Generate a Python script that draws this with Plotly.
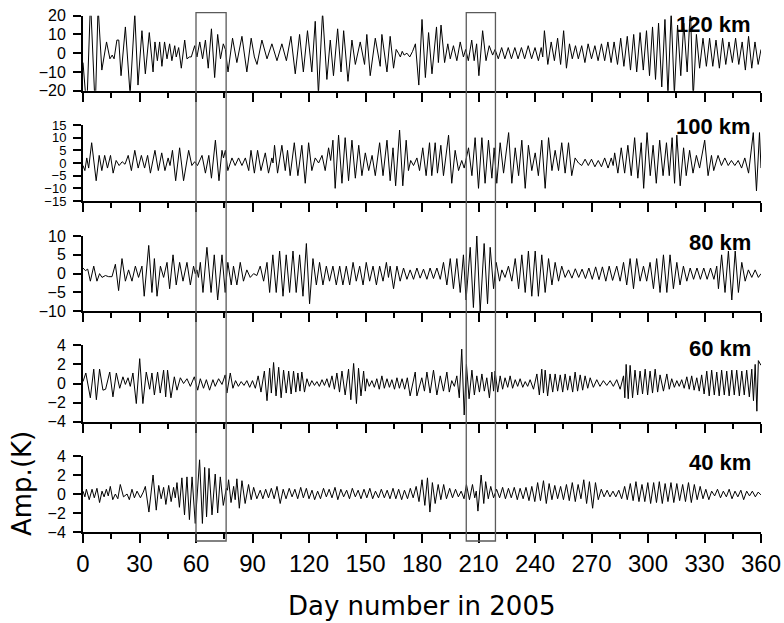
import plotly.graph_objects as go

# Figure size and plot-area margins (pixels)
W, H = 784, 623
ML, MR, MT, MB = 83, 23, 15, 91

# ---- Data: (day of 2005, amplitude in K) for each altitude ----
pts_120 = [
    (0, -5), (2, -30), (4, 28), (6.5, -30), (8, 25), (10, -9), (12.5, 6), (14.3, -3), (15.5, -1),
    (16.5, -3), (18, 7), (19, 7), (20.2, -12), (22.5, 14), (25, -22), (27.5, 21), (29.2, -17),
    (31.3, 12), (33.1, -11), (35.2, 11), (37.2, -10), (38.2, 6), (39.5, -4), (40.7, 6), (41.9, -7),
    (43.3, 6), (44.6, -3), (46, 5), (47.2, -4), (48.7, 4), (49.5, -2), (50.8, 3), (52.2, -8),
    (54, 7), (55.2, -3), (56.5, -2), (57.5, -2), (59.3, 4), (60.5, -2), (62, 6), (63.5, -3),
    (65, 7), (66.5, -8), (68.2, 13), (69.9, -13), (71.5, 10), (73, -3), (74.5, 5), (75.6, 2),
    (77, -10), (79.4, 8), (81.7, -5), (84.4, 9), (87, -10), (89.3, 8), (91, -2), (92.4, -6),
    (95, 7), (97.7, -3), (100.3, 5), (103, -4), (105.6, 5), (108, -4), (110.4, 9), (112.7, -11),
    (115, 10), (117, -10), (119.2, 12), (121.5, -10), (123.3, 17), (125, -22), (127.2, 22),
    (129.5, -14), (131.3, 7), (133, -12), (135.2, 13), (137, -10), (138.4, 12), (140.7, -15),
    (142.8, 7), (144.6, -6), (147.2, 6), (149.5, -6), (150.7, 10), (152.5, -12), (155.2, 8),
    (157.8, -7), (158.7, 10), (161.4, -10), (163.1, 9), (164.9, -8), (166.3, 2), (167.5, 0),
    (168.5, -2), (169.5, 1), (170.5, -1), (172, 0), (173.5, -2), (175, 1), (176.5, 5),
    (178.3, -17), (180, 18), (181.8, -13), (183.5, 11), (185.3, -11), (187.7, 14), (188.7, -5),
    (190.1, 15), (192, -5), (193.7, 5), (195, -3), (196.7, 4), (198.5, -4), (200.3, 6), (202, -2),
    (203.2, 2), (204.6, -4), (206.4, 7), (207.7, -4), (209, 5), (210.2, -12), (212.2, 12),
    (214, -4), (215.7, 4), (217.5, -1), (218.8, 2), (220.5, -3), (222.3, 3), (224, -3),
    (225.8, 3), (227.5, -3), (229.3, 3), (231, -3), (232.8, 3), (234.5, -3), (236.4, 4),
    (238.2, -3), (240, 3), (241.8, -4), (243.3, 3), (244.1, -2), (245, 12), (246.8, -6),
    (248.6, 6), (250.3, -4), (252, 8), (253.6, -6), (255.2, 12), (256.7, -8), (258.3, 5),
    (259.8, -3), (261.5, 4), (263, -3), (264.8, 4), (266.5, -5), (268.2, 5), (270, -3),
    (271.8, 4), (273.5, -4), (275.3, 5), (277, -4), (278.7, 6), (280.4, -5), (282, 6),
    (283.8, -6), (285.5, 8), (287.2, -7), (289, 9), (290.7, -9), (292.4, 10), (294, -10),
    (295.8, 11), (297.5, -9), (299.2, 12), (300.8, -12), (302.4, 14), (304, -14), (305.6, 16),
    (307.3, -18), (309, 18), (310.6, -22), (312.3, 22), (314, -22), (315.7, 15), (317.4, -12),
    (319, 16), (320.8, -10), (322.5, 24), (324, -24), (325.7, 10), (327.4, -8), (329.2, 8),
    (331, -7), (332.7, 8), (334.4, -7), (336.1, 7), (337.9, -8), (339.6, 8), (341.3, -6),
    (343, 6), (344.8, -5), (346.5, 8), (348.2, -6), (350, 6), (351.7, -9), (353.4, 9),
    (355.1, -8), (356.8, 6), (358.5, -6), (360, 2),
]

pts_100 = [
    (0, -1), (1, -3), (2, 2), (3, -2), (4.6, 8), (7, -7), (8.6, 3), (10, -3), (11.5, 3), (13, -2),
    (14.6, 3), (16, -4), (17.6, 1), (19.2, -1), (20.8, 0.5), (22.3, -0.5), (24, 3), (25.7, -3),
    (27.5, 5), (29.3, -2), (31, 3), (32.7, -2), (34.3, 3), (35.8, -4), (38.2, 5), (40, -3),
    (41.8, 4), (43.5, -3), (45.2, 2), (46.2, -1), (47.5, 5), (49.2, -7), (51.3, 6), (53.4, -7),
    (56.1, 5), (57.8, -1), (59.3, 0.5), (60.8, -1), (63.2, 3), (65, -4), (66.8, 3), (68.2, -6),
    (70.3, 9), (72.2, -7), (73.8, 5), (74.6, 2), (75.6, 5), (76.9, -3), (79.1, 2), (80.8, -1),
    (82.6, 2), (84.4, -1), (86.2, 2), (88, -3), (89.2, 5), (91, -4), (92.7, 5), (94.5, -3),
    (96.8, 4), (98.5, -4), (100.3, 2), (100.9, 0), (101.7, 7), (103.3, -4), (105.6, 7),
    (107.4, -3), (108.6, 5), (110, -5), (112.2, 8), (114.1, -5), (116.2, 7), (118, -8),
    (119.8, 8), (121.5, -3), (123.3, 2), (125.1, 0), (126.9, 3), (128.6, -3), (130.4, 6),
    (131.5, 1), (132.7, 9), (133.9, -10), (135.7, 11), (137.5, -8), (139.2, 10), (141, -7),
    (142.8, 9), (144.6, -6), (146.4, 7), (148.1, -5), (149.9, 4), (151.7, -3), (153.5, 3),
    (155.2, -5), (157.5, 8), (159.3, -5), (161.4, 9), (163.1, -7), (164.6, 6), (166, -9),
    (168.1, 13), (169.8, -9), (171.6, 9), (172.8, -3), (174, 1), (175.5, -1), (177.3, 2),
    (178.7, -3), (180.4, 6), (182.2, -5), (184, 8), (185.2, -5), (187, 8), (188.2, -4), (190, 7),
    (191.4, -5), (194.1, 11), (195.8, -8), (197.6, 5), (199.4, -3), (201.1, 1), (202.4, -2),
    (204.7, 6), (206.5, -5), (208.2, 10), (210, -10), (211.8, 10), (213.5, -8), (215.3, 9),
    (217.1, -6), (218.3, 6), (219.7, -8), (221.5, 8), (223.3, -4), (226, 12), (227.7, -8),
    (229.5, 6), (231.3, -5), (233, 9), (234.8, -10), (236.5, 7), (238.3, -3), (240.1, 4),
    (241.8, -5), (243.6, 9), (245.4, -10), (247.2, 10), (249, -3), (250.7, 5), (252.5, -3),
    (254.2, 8), (256, -4), (257.8, 8), (259.5, -5), (261.3, 2), (263.1, 0), (264.8, -1),
    (266.6, 1.5), (268.3, -1), (270, 1.5), (271.8, -1.5), (273.6, 1), (275.3, -1.5), (277, 2),
    (278.8, -2), (280.5, 2), (281.5, -1), (282.3, 4), (284, -4), (285.8, 6), (287.6, -4),
    (289.3, 7), (291.1, -5), (292.9, 10), (294.6, -6), (296.4, 8), (297.7, -10), (299.5, 12),
    (301.2, -5), (302.7, 7), (304.4, -8), (306.2, 9), (308, -5), (309.8, 8), (311.3, -5),
    (312.8, 10), (314.1, -8), (315.3, 11), (317.1, -9), (318.9, 6), (320.3, -5), (322.1, 5),
    (323.9, -4), (325.7, 3), (327.4, -2), (330.1, 9), (331.9, -5), (333.7, 3), (334.9, -3),
    (337.2, 3), (339, -1), (340.8, 2), (342.6, -1), (344.3, 1), (346.1, -1), (347.9, 1),
    (349.7, -2), (351.4, 2), (353.4, -4), (355.9, 12), (357.6, -11), (359.2, 12), (360, -2),
]

pts_80 = [
    (0, 1.5), (1.3, 0.8), (2.5, 1.2), (3.9, -2), (5.7, 2), (7.4, -2), (8.8, 0), (10.1, -1),
    (11.9, -0.5), (13.6, -0.8), (15.4, -0.8), (17.2, 2.5), (18.9, -4.5), (20.7, 4), (22.5, -2),
    (24.2, 1), (26, -2), (27.8, 2), (29.5, -1), (31.3, 2), (32.5, -6), (34.9, 7.5), (36.6, -5),
    (37.9, 4), (39.3, -6), (41.1, 2), (42.8, -1), (44.6, 3), (46, -4), (47.8, 5), (49.5, -3),
    (51.3, 3), (53.1, -2), (55.2, 3), (57, -3), (58.7, 2), (59.6, 0), (60.5, 1), (61.3, -1),
    (62.3, 3), (63.7, -5), (65.8, 7), (68, -5), (69.7, 5), (71.5, -7), (73.8, 5), (75.5, -5),
    (76.9, 3), (78.7, -3), (79.9, 2), (81.7, -3), (83.5, 3), (85.2, -2), (87, 1), (88.8, -1),
    (90.6, 0), (92.3, -0.5), (94.1, 2), (95.9, -2), (97.7, 3), (99.1, -5), (100.8, 5),
    (102.6, -5), (104.4, 6), (106.2, -6), (107.9, 5), (109.7, -5), (111.5, 6), (113.2, -5),
    (115, 5), (116.8, -6), (118.6, 8), (120.3, -8), (122.1, 4), (123.9, -3), (125.6, 3),
    (127.4, -3), (129.2, 2), (130.9, -2), (132.7, 2), (134.5, -3), (136.3, 2), (138, -3),
    (139.8, 2), (141.6, -3), (143.4, 3), (145.1, -2), (146.9, 2), (148.7, -3), (150.4, 3),
    (152.2, -2), (154, 2), (155.8, -3), (157.5, 2), (159.3, -2), (161.1, 3), (162.2, -1),
    (163.1, 2), (164.9, -4), (166.7, 2), (168.4, -2), (170.2, 1.5), (172, -1.5), (173.7, 1),
    (175.5, -1.5), (177.3, 1.5), (179, -1.2), (180.8, 1.2), (182.6, -1.5), (184.3, 1.5),
    (186.1, -1.3), (187.9, 1.5), (189.7, -1.5), (191.4, 3), (193.2, -3), (195, 4), (196.7, -4),
    (198.5, 4), (200.3, -5), (202, 5), (203.4, -7), (205.6, 7), (207.3, -9), (209.1, 10),
    (210.9, -10), (213, 8), (214.8, -8), (216.2, 7), (218, -4), (219.4, 3), (221.2, -2),
    (222.4, 1), (224.1, -1), (225.9, 2), (227.7, -2), (229.5, 4), (231.3, -4), (233, 5),
    (234.8, -5), (236.5, 6), (238.3, -6), (240.1, 6), (241.8, -6), (243.6, 5), (245.4, -5),
    (247.2, 4), (249, -3), (250.7, 3), (252.5, -2), (254.2, 2), (256, -1), (257.8, 1),
    (259.6, -1.2), (261.4, 1.3), (263.2, -1), (265, 1.2), (266.8, -1.3), (268.6, 1.5),
    (270.4, -1.5), (272.2, 1.8), (274, -1.6), (275.8, 1.8), (277.6, -2), (279.4, 2),
    (281.2, -1.8), (283.4, 2), (285.2, -2), (287, 3), (288.7, -3), (290.5, 4), (292.3, -4),
    (294, 4), (295.8, -2), (297.6, 2), (299.3, -2), (301.1, 3), (302.9, -4), (304.6, 4),
    (306.4, -5), (308.2, 5), (310, -5), (311.7, 5), (313.5, -4), (315.3, 3), (317, -3),
    (318.8, 2), (320.6, -2), (322.4, 1.5), (324.2, -1.5), (326, 1.5), (327.8, -1.5), (329.6, 1.5),
    (331.4, -1.5), (333.2, 1.5), (335, -1.5), (336.5, 2), (337.4, -4), (339.1, 5), (340.9, -5),
    (342.7, 6), (344.5, -7), (346.3, 6), (348, -5), (349.8, 3), (351.6, -2), (353.3, 1),
    (355.1, -1), (356.9, 1), (358.6, -1), (360, 0),
]

pts_60 = [
    (0, 0.2), (1.5, 1.1), (3.9, -1.5), (5.7, 1.5), (7.1, -1.7), (8.8, 1.5), (10.6, -0.7),
    (12, -0.6), (14.2, 1.2), (15.9, -1.4), (17.7, 1.1), (19.5, -0.5), (21.2, 0.7), (22.5, -0.1),
    (23.9, 0.6), (25.1, -0.3), (26.5, 1.1), (28.3, -2.1), (30.1, 2.6), (31.8, -2.1), (33.6, 1.2),
    (35.4, -0.6), (36.6, 1.1), (37.9, -1.2), (39.6, 1.2), (41, -1.0), (42.8, 1.4), (43.9, -1.4),
    (44.9, 1.4), (46.7, -1.5), (48.5, 0.7), (49.9, -0.7), (51.7, 0.6), (53.4, 0), (55.2, 0.5),
    (57, -0.3), (59.1, 0.7), (60.9, -0.7), (62.3, 0.5), (64, -0.5), (65.5, 0.4), (67.2, -0.7),
    (69, 0.4), (70.2, -0.3), (72, 0.5), (73.8, -0.1), (75.5, 0.9), (76.4, -1.0), (78.2, 1.1),
    (79.6, -0.5), (81, 0.3), (82.5, -0.3), (84, 0.2), (85.5, -0.2), (87, 0.3), (88.5, -0.4),
    (90, 0.3), (91.5, -0.5), (93, 0.8), (94.5, -0.9), (96.3, 1.3), (97.7, -1.8), (99.1, 1.6),
    (100, -1.0), (101.2, 2.2), (102.5, -1.3), (103.9, 1.7), (105.2, -1.5), (106.5, 1.4),
    (107.9, -1.0), (109.2, 1.3), (110.5, -1.1), (111.8, 1.3), (113, -0.9), (114.1, 1.1),
    (115.2, -0.8), (116.2, 1.2), (117.6, -0.9), (118.9, 0.5), (120.2, -0.3), (121.5, 0.3),
    (122.9, -0.2), (124.2, 0.2), (125.5, -0.3), (126.9, 0.4), (128.2, -0.2), (129.5, 0.5),
    (130.8, -0.4), (132.2, 0.8), (133.5, -0.6), (134.8, 1.1), (136.2, -0.9), (137.5, 1.3),
    (139.2, -1.2), (141, 1.5), (142.2, -1.7), (143.7, 2.1), (145.2, -2.1), (146.3, 1.6),
    (147.6, -1.3), (149, 1.3), (149.9, -0.8), (150.7, 0.5), (152, -0.3), (153.4, 0.3),
    (154.7, -0.4), (156, 0.5), (157.3, -0.6), (158.7, 0.8), (160, -0.5), (161.4, 0.5),
    (162.7, -0.4), (164, 0.4), (165.4, -0.6), (166.7, 0.6), (168, -0.5), (169.4, 0.5),
    (170.8, -0.6), (172.2, 0.6), (173.7, -1.3), (176.4, 1.2), (177.3, -1.3), (179.9, 0.6),
    (181.3, -0.8), (182.6, 1.2), (184.3, -1.0), (186.1, 1.4), (187.9, -1.2), (189.7, 0.8),
    (191.4, -0.8), (193.2, 1.2), (194.5, -0.9), (195.8, 0.3), (197.2, -0.3), (198.5, 0.8),
    (199.8, -1.5), (201.1, 3.6), (202.4, -3.3), (203.6, 2.0), (205, -1.6), (206.5, 1.4),
    (207.8, -1.2), (209.1, 0.8), (210.5, -0.9), (211.8, 1.0), (213.1, -0.8), (214.4, 0.6),
    (215.8, -1.5), (217.1, 1.2), (218, -0.8), (218.8, 1.3), (220.2, -0.9), (221.5, 0.8),
    (222.8, -0.6), (224.1, 0.6), (225.5, -0.4), (226.8, 0.8), (228.1, -0.5), (229.5, 0.4),
    (230.8, -0.3), (232.1, 0.5), (233.5, -0.4), (234.8, 0.2), (236.1, -0.3), (237.4, 0.4),
    (239.2, -0.6), (241, 1.0), (242.3, -1.2), (243.6, 1.5), (244.5, -1.0), (245.4, 1.4),
    (246.7, -1.3), (248, 1.0), (249.4, -0.9), (250.7, 1.0), (252, -0.8), (253.4, 0.9),
    (254.7, -0.9), (256, 1.0), (257.3, -0.7), (258.6, 0.8), (260, -0.9), (261.3, 1.2),
    (262.6, -0.8), (264, 0.9), (265.3, -0.7), (266.6, 0.8), (268, -0.5), (269.3, 0.6),
    (271, -0.4), (272.8, 0.4), (274.5, -0.3), (276.3, 0.3), (278.1, -0.2), (279.9, 0.3),
    (281.6, -0.3), (283.4, 0.4), (285.2, -0.6), (287, 0.8), (287.7, -1.5), (288.4, 2.0),
    (289.5, -1.6), (290.5, 1.9), (291.8, -1.5), (293.1, 1.4), (294.5, -1.2), (295.8, 1.3),
    (297.1, -1.1), (298.5, 1.5), (299.8, -1.2), (301.1, 1.3), (302.4, -1.0), (303.8, 1.5),
    (305.1, -0.9), (306.4, 0.9), (308.2, -0.8), (310, 1.0), (311.3, -0.6), (312.6, 0.5),
    (314, -0.4), (315.3, 0.3), (316.6, -0.3), (317.9, 0.4), (319.2, -0.5), (320.6, 0.7),
    (321.9, -0.6), (323.2, 0.8), (324.5, -0.7), (325.9, 0.6), (327.2, -0.8), (328.5, 0.9),
    (329.8, -1.1), (331.2, 1.3), (332.5, -1.3), (333.8, 1.4), (335.2, -1.2), (336.5, 1.2),
    (337.8, -1.3), (339.1, 1.4), (340.5, -1.2), (341.8, 1.3), (343.1, -1.3), (344.5, 1.4),
    (345.8, -1.2), (347.1, 1.4), (348.5, -1.3), (349.8, 1.3), (351.1, -1.2), (352.4, 1.4),
    (353.8, -1.4), (355.1, 1.5), (356, -1.8), (356.9, 2.0), (357.8, -2.9), (358.6, 2.4),
    (360, 1.9),
]

pts_40 = [
    (0, 0.3), (1, -0.3), (1.8, 0.5), (3.3, -0.6), (4.8, 0.5), (6, -0.4), (7.4, 0.6), (8.8, -0.9),
    (10.1, 0.3), (11.2, -0.3), (12.4, 0.5), (13.4, -0.2), (14.5, 0.8), (15.8, -0.6), (17.2, 0),
    (18.5, -0.5), (19.8, 1.0), (21.5, -0.3), (23.4, 0), (24.6, -0.6), (26, 0.5), (27.3, -0.4),
    (28.7, 0.3), (30.5, -0.4), (32, 0.2), (33.1, 0.8), (35, -1.9), (37.2, 2.0), (38.9, -1.7),
    (40.2, 0.9), (41.5, -0.5), (42.8, 0.7), (44, -1.1), (45.5, 0.9), (46.8, -0.8), (48.1, 0.7),
    (49, -0.4), (49.9, 1.2), (51.2, -1.4), (52.5, 1.7), (53.9, -2.2), (55.2, 1.8), (56.5, -2.7),
    (57.9, 1.8), (59.6, -3.1), (61.9, 3.6), (63.4, -3.1), (64.6, 2.8), (65.6, -2.4), (66.9, 2.7),
    (68.5, -2.2), (70.2, 2.1), (71.5, -2.0), (72.9, 1.8), (74.5, -1.2), (76.1, 0.6), (76.7, 0.4),
    (77.3, 1.5), (78.6, -0.9), (80, 0.8), (80.8, -0.6), (81.7, 1.6), (83, -1.5), (84.4, 1.4),
    (86.1, -1.0), (87.9, 1.0), (89.3, -0.6), (90.6, 0.7), (92.3, -0.5), (94.1, 0.4), (95.5, -0.5),
    (97, 0.5), (98.5, -0.4), (100, 0.6), (101.5, -0.5), (103, 0.8), (104.7, -1.0), (106.3, 0.5),
    (107.8, -0.5), (109.5, 0.6), (111, -0.3), (112.5, 0.5), (114, -0.5), (115.6, 0.7),
    (117, -0.4), (118.6, 0.6), (120, -0.5), (121.6, 0.4), (123, -0.6), (124.6, 0.3),
    (126.1, -0.5), (127.7, 0.6), (129.2, -0.3), (130.7, 0.5), (132.2, -0.4), (133.8, 0.7),
    (135.3, -0.6), (136.9, 0.5), (138.4, -0.3), (140, 0.4), (141.5, -0.5), (143, 0.6),
    (144.6, -0.3), (146.1, 0.4), (147.6, -0.5), (149.2, 0.5), (150.7, -0.4), (152.3, 0.6),
    (153.8, -0.5), (155.3, 0.3), (156.9, -0.4), (158.4, 0.5), (160, -0.4), (161.5, 0.4),
    (163, -0.5), (164.6, 0.6), (166.1, -0.5), (167.6, 0.5), (169.2, -0.6), (170.7, 0.4),
    (172.3, -0.5), (173.8, 0.6), (175.3, -0.4), (176.9, 0.8), (178.4, -0.8), (180, 1.5),
    (181.5, -1.2), (182.9, 1.7), (184.2, -1.9), (185.5, 1.2), (187, -1.0), (188.6, 1.0),
    (190, -0.6), (191.5, 1.0), (193, -0.5), (194.7, 0.6), (196.2, -0.4), (197.8, 0.5),
    (199.3, -0.3), (200.8, 0.3), (202.3, -0.5), (203.6, 1.0), (205.2, -0.6), (206.8, 1.0),
    (208, -0.4), (208.8, 0.3), (209.7, -1.8), (211.4, 2.0), (212.8, -1.0), (213.8, 1.3),
    (215.2, -0.5), (216.5, 0.8), (218, -0.4), (219.6, 0.5), (221.2, -0.4), (222.8, 0.7),
    (224.3, -0.5), (225.9, 0.6), (227.4, -0.4), (229, 0.7), (230.6, -0.6), (232.1, 0.6),
    (233.7, -0.5), (235.2, 0.7), (236.8, -0.7), (238.3, 0.8), (239.9, -0.8), (241.4, 1.2),
    (242.9, -0.7), (244.5, 1.4), (246, -1.0), (247.5, 1.1), (249, -0.6), (250.5, 0.9),
    (252, -0.5), (253.6, 0.8), (255.1, -0.6), (256.7, 1.0), (258.2, -0.7), (259.8, 1.2),
    (261.4, -0.8), (262.9, 1.0), (264.4, -0.5), (265.9, 1.5), (267.4, -1.0), (268.9, 1.3),
    (270.6, -1.5), (272.1, 1.2), (273.6, -0.6), (275.2, 0.5), (276.7, -0.3), (278.3, 0.4),
    (279.8, -0.3), (281.4, 0.3), (282.9, -0.3), (284.5, 0.4), (286, -0.5), (287.6, 0.8),
    (289, -0.6), (290.6, 1.1), (292.1, -0.7), (293.6, 1.3), (295.2, -0.8), (296.8, 1.0),
    (298.3, -0.8), (299.9, 1.2), (301.4, -1.0), (303, 1.2), (304.5, -0.9), (306, 1.3),
    (307.6, -1.0), (309.1, 1.1), (310.6, -0.8), (312.2, 1.2), (313.7, -0.9), (315.3, 1.1),
    (316.8, -0.7), (318.4, 1.0), (319.9, -0.8), (321.5, 1.2), (323, -0.9), (324.6, 1.0),
    (326.1, -0.6), (327.7, 0.8), (329.2, -0.5), (330.7, 0.5), (332.3, -0.6), (333.8, 0.3),
    (335.4, -0.2), (336.9, 0.5), (338.5, -0.4), (340, 0.3), (341.6, -0.3), (343.1, 0.5),
    (344.6, -0.5), (346.2, 0.3), (347.7, -0.3), (349.3, 0.4), (350.8, -0.6), (352.4, 0.3),
    (353.9, -0.2), (355.4, 0.3), (357, -0.3), (358.5, 0.2), (360, -0.1),
]

altitudes = ["120 km", "100 km", "80 km", "60 km", "40 km"]
series = [pts_120, pts_100, pts_80, pts_60, pts_40]

y_ticks_120 = [-20, -10, 0, 10, 20]
y_ticks_100 = [-15, -10, -5, 0, 5, 10, 15]
y_ticks_80 = [-10, -5, 0, 5, 10]
y_ticks_60 = [-4, -2, 0, 2, 4]
y_ticks_40 = [-4, -2, 0, 2, 4]
y_ticks = [y_ticks_120, y_ticks_100, y_ticks_80, y_ticks_60, y_ticks_40]

day_ticks = [0, 30, 60, 90, 120, 150, 180, 210, 240, 270, 300, 330, 360]

# highlighted intervals (days)
windows = [(60, 76), (203.5, 219)]

# ---- Layout helpers ----
PLOT_H = H - MT - MB
PLOT_W = W - ML - MR


def py(p):
    """pixel row -> paper y"""
    return (H - MB - p) / PLOT_H


def px(p):
    """pixel column -> paper x"""
    return (p - ML) / PLOT_W


def clamp(v):
    return min(1.0, max(0.0, v))


# pixel extent (top, bottom) of every panel
panel_px = [(15.7, 90.7), (125, 201), (236, 311.3), (345.3, 421.7), (456, 532)]
label_cy = [25, 126, 243, 348.5, 462.5]
# the crowded 100 km axis gets slightly smaller tick labels
ytick_size = [16, 13, 16, 16, 16]

FONT = "Liberation Sans, Arial, Helvetica, sans-serif"
TITLE_FONT = "DejaVu Sans, Verdana, sans-serif"

fig = go.Figure()
layout = dict(
    template="none",
    width=W, height=H, autosize=False,
    margin=dict(l=ML, r=MR, t=MT, b=MB, pad=0, autoexpand=False),
    paper_bgcolor="white", plot_bgcolor="white",
    showlegend=False,
    font=dict(family=FONT, color="black"),
)

annotations = []
for i, (name, pts, ticks, (top, bot)) in enumerate(zip(altitudes, series, y_ticks, panel_px), start=1):
    fig.add_trace(go.Scatter(
        x=[d for d, _ in pts], y=[v for _, v in pts],
        mode="lines", line=dict(color="black", width=1),
        xaxis=f"x{i}", yaxis=f"y{i}", hoverinfo="skip",
    ))
    lo, hi = ticks[0], ticks[-1]
    layout[f"xaxis{i}"] = dict(
        domain=[0, 1], range=[0, 360], anchor=f"y{i}", automargin=False,
        tickmode="array", tickvals=day_ticks, showticklabels=(i == 5),
        ticks="outside", ticklen=9, tickwidth=2, tickcolor="black",
        minor=dict(dtick=15, tick0=0, ticks="outside", ticklen=5, tickwidth=2, tickcolor="black"),
        showline=True, linewidth=2, linecolor="black",
        showgrid=False, zeroline=False,
        tickfont=dict(size=24, family=FONT, color="black"),
        ticklabelstandoff=0,
    )
    layout[f"yaxis{i}"] = dict(
        domain=[clamp(py(bot)), clamp(py(top))], range=[lo, hi], anchor=f"x{i}",
        automargin=False,
        tickmode="array", tickvals=ticks,
        ticks="outside", ticklen=8, tickwidth=2, tickcolor="black",
        showline=True, linewidth=2, linecolor="black",
        showgrid=False, zeroline=False,
        tickfont=dict(size=ytick_size[i - 1], family=FONT, color="black"),
        ticklabelstandoff=4,
    )
    annotations.append(dict(
        text=f"<b>{name}</b>", xref="paper", yref="paper",
        x=px(753), y=py(label_cy[i - 1]), xanchor="right", yanchor="middle",
        showarrow=False, font=dict(size=22, family=FONT, color="black"),
    ))

annotations.append(dict(
    text="Day number in 2005", xref="paper", yref="paper",
    x=px(421), y=py(606), xanchor="center", yanchor="middle",
    showarrow=False, font=dict(size=26, family=TITLE_FONT, color="black"),
))
annotations.append(dict(
    text="Amp.(K)", xref="paper", yref="paper", textangle=-90,
    x=px(22), y=py(483), xanchor="center", yanchor="middle",
    showarrow=False, font=dict(size=26, family=TITLE_FONT, color="black"),
))
layout["annotations"] = annotations

layout["shapes"] = [
    dict(type="rect", xref="x5", yref="paper", x0=a, x1=b, y0=py(541), y1=py(12.7),
         line=dict(color="#5a5a5a", width=1.3), fillcolor="rgba(0,0,0,0)", layer="above")
    for a, b in windows
]

fig.update_layout(**layout)
fig.write_html(
    "out.html",
    post_script="document.body.style.margin='0px';document.body.style.overflow='hidden';",
)
